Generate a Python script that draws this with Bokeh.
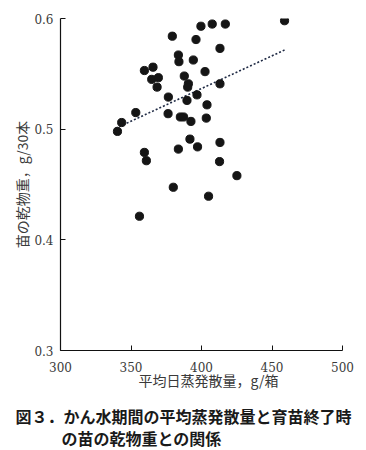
from bokeh.plotting import figure
from bokeh.models import Range1d, FixedTicker, Title
from bokeh.embed import file_html
from bokeh.resources import INLINE

# Mean evapotranspiration during irrigation period (g/box)
evap = [458.9, 399.6, 407.6, 416.9, 379.3, 396.1, 413.1, 383.6, 384.0, 394.2,
        359.5, 365.6, 402.5, 364.7, 369.4, 368.5, 387.8, 390.7, 390.2, 413.1,
        376.5, 389.7, 396.8, 403.9, 353.4, 376.3, 385.0, 387.3, 392.5, 403.4,
        343.4, 340.4, 391.8, 397.2, 413.1, 383.6, 359.5, 360.9, 412.8, 425.1,
        380.0, 405.0, 356.0]
# Seedling dry weight at end of nursery (g/30 plants)
dry_weight = [0.598, 0.593, 0.595, 0.595, 0.584, 0.581, 0.573, 0.567, 0.561, 0.5625,
              0.553, 0.556, 0.552, 0.545, 0.5465, 0.538, 0.548, 0.541, 0.538, 0.541,
              0.529, 0.526, 0.531, 0.522, 0.515, 0.514, 0.511, 0.511, 0.507, 0.510,
              0.506, 0.498, 0.491, 0.484, 0.488, 0.482, 0.479, 0.4715, 0.4707, 0.458,
              0.4475, 0.4394, 0.4213]
# Trend line end points
trend_x = [339.2, 458.9]
trend_y = [0.5008, 0.5715]

x_ticks = [300, 350, 400, 450, 500]
y_ticks = [0.3, 0.4, 0.5, 0.6]

x_label = "\u3000平均日蒸発散量，g/箱"
y_label = "苗の乾物重，g/30本"
caption1 = "図３．かん水期間の平均蒸発散量と育苗終了時"
caption2 = "の苗の乾物重との関係"

p = figure(frame_width=282, frame_height=332, x_range=Range1d(300, 500), y_range=Range1d(0.3, 0.6),
           output_backend="svg", toolbar_location=None, title=None,
           min_border_left=60, min_border_right=14, min_border_top=18, min_border_bottom=99)
p.outline_line_color = None
p.grid.visible = False
p.background_fill_color = "white"
p.border_fill_color = "white"

p.line(trend_x, trend_y, line_color="#1f2a44", line_width=1.6, line_dash="2 2")
p.scatter(evap, dry_weight, size=8.2, fill_color="#151515", line_color="#151515")

for ax in (p.xaxis[0], p.yaxis[0]):
    ax.axis_line_color = "#111111"
    ax.axis_line_width = 1.2
    ax.major_tick_line_color = "#111111"
    ax.major_tick_in = 5
    ax.major_tick_out = 0
    ax.minor_tick_line_color = None
    ax.major_label_text_font = "DejaVu Serif"
    ax.major_label_text_font_size = "12px"
    ax.major_label_text_color = "#3a3a3a"
    ax.axis_label_text_font = "Noto Sans CJK JP"
    ax.axis_label_text_font_size = "14px"
    ax.axis_label_text_font_style = "normal"
    ax.axis_label_text_color = "#3a3a3a"

p.xaxis.ticker = FixedTicker(ticks=x_ticks)
p.yaxis.ticker = FixedTicker(ticks=y_ticks)
p.xaxis.axis_label = x_label
p.yaxis.axis_label = y_label
p.xaxis.major_label_standoff = 11
p.xaxis.axis_label_standoff = -5
p.yaxis.major_label_standoff = 7
p.yaxis.axis_label_standoff = -1

t1 = Title(text=caption1, align="left", offset=-45, standoff=18,
           text_font="Noto Sans CJK JP", text_font_size="16px", text_font_style="bold",
           text_color="#1a1a1a")
t2 = Title(text=caption2, align="left", offset=1, standoff=-26,
           text_font="Noto Sans CJK JP", text_font_size="16px", text_font_style="bold",
           text_color="#1a1a1a")
p.add_layout(t1, "below")
p.add_layout(t2, "below")

open("out.html", "w").write(file_html(p, INLINE))
